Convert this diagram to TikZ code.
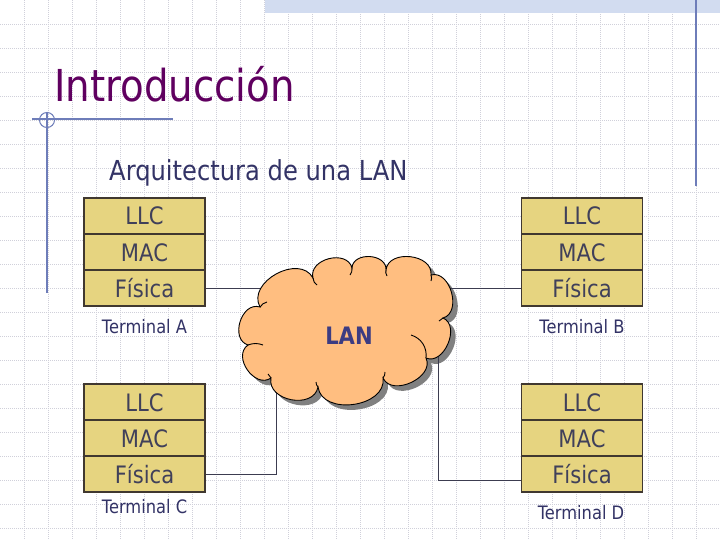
\documentclass[tikz,border=0pt]{standalone}
\usepackage{fontspec}
\setmainfont{DejaVu Sans}[FakeStretch=0.88]
\definecolor{titlec}{RGB}{96,0,96}
\definecolor{navy}{RGB}{51,51,102}
\definecolor{boxfill}{RGB}{230,212,128}
\definecolor{boxline}{RGB}{64,56,48}
\definecolor{boxtext}{RGB}{64,64,90}
\definecolor{cloudfill}{RGB}{255,190,128}
\definecolor{shadowc}{RGB}{128,128,128}
\definecolor{gridc}{RGB}{208,208,218}
\definecolor{decoc}{RGB}{110,125,185}
\definecolor{bandc}{RGB}{210,220,240}
\definecolor{wirec}{RGB}{60,60,80}
\definecolor{lanc}{RGB}{60,60,130}
\newcommand\mycloud{(260,307) to[bend left=90,looseness=1.2] (313,278)
  to[bend left=90,looseness=1.25] (352,268)
  to[bend left=90,looseness=1.25] (386,270)
  to[bend left=90,looseness=1.2] (431,275)
  to[bend left=90,looseness=1.15] (443,318)
  to[bend left=90,looseness=1.15] (426,358)
  to[bend left=90,looseness=1.15] (383,378)
  to[bend left=90,looseness=1.15] (318,387)
  to[bend left=90,looseness=1.25] (271,378)
  to[bend left=90,looseness=1.25] (248,345)
  to[bend left=90,looseness=1.25] (260,307) -- cycle}
\begin{document}
\begin{tikzpicture}[x=1pt,y=-1pt,
  layer/.style={draw=boxline,line width=1.3pt,fill=boxfill,minimum width=121pt,
    minimum height=36pt,inner sep=0pt,text=boxtext,font=\fontsize{24}{24}\selectfont,
    text height=18pt,text depth=0pt},
  term/.style={text=navy,font=\fontsize{18.5}{19}\selectfont,anchor=base,inner sep=0pt},
  wire/.style={draw=wirec,line width=0.9pt},
  deco/.style={draw=decoc,line width=1.3pt},
  gridline/.style={draw=gridc,line width=0.7pt,dash pattern=on 0.7pt off 1.3pt},
  cloudline/.style={draw=black,line width=0.9pt}]
\useasboundingbox (0,0) rectangle (720,540);
\fill[white] (0,0) rectangle (720,540);
\foreach \i in {1,...,29} {\draw[gridline] (\i*24,0) -- (\i*24,540);}
\foreach \j in {1,...,22} {\draw[gridline] (0,\j*24) -- (720,\j*24);}
\fill[bandc] (265,0) rectangle (720,13);
\draw[deco] (696,0) -- (696,186);
\draw[deco] (32,119) -- (173,119);
\draw[deco] (47,112) -- (47,293);
\draw[deco,line width=1pt] (47,120) circle (7.5);
% titles
\node[anchor=base west,inner sep=0pt,text=titlec,font=\fontsize{44}{48}\selectfont] (title) at (54,102) {Introducción};
\node[anchor=base west,inner sep=0pt,text=navy,font=\fontsize{27.5}{30}\selectfont] (sub) at (109,181) {Arquitectura de una LAN};
% cloud shadow
\fill[shadowc,shift={(5,5)}] \mycloud;
% terminals
\node[layer] (A1) at (144.5,216) {LLC};
\node[layer] (A2) at (144.5,252) {MAC};
\node[layer] (A3) at (144.5,288) {Física};
\node[layer] (B1) at (582,216) {LLC};
\node[layer] (B2) at (582,252) {MAC};
\node[layer] (B3) at (582,288) {Física};
\node[layer] (C1) at (144.5,402) {LLC};
\node[layer] (C2) at (144.5,438) {MAC};
\node[layer] (C3) at (144.5,474) {Física};
\node[layer] (D1) at (582,402) {LLC};
\node[layer] (D2) at (582,438) {MAC};
\node[layer] (D3) at (582,474) {Física};
\node[term] (tA) at (144.5,333) {Terminal A};
\node[term] (tB) at (582,333) {Terminal B};
\node[term] (tC) at (144.5,513) {Terminal C};
\node[term] (tD) at (581,519) {Terminal D};
% connectors
\coordinate (lanc) at (349,330);
\coordinate (cj) at (276,360);
\coordinate (dj) at (438,340);
\draw[wire] (A3.east) -- (A3.east -| lanc);
\draw[wire] (B3.west) -- (B3.west -| lanc);
\draw[wire] (C3.east) -| (cj);
\draw[wire] ([yshift=-6pt]D3.west) -| (dj);
% cloud
\filldraw[fill=cloudfill,cloudline] \mycloud;
\draw[cloudline] (313,278) to[bend right=25] (317,285);
\draw[cloudline] (352,268) to[bend left=20] (350,275);
\draw[cloudline] (386,270) to[bend right=20] (387,276);
\draw[cloudline] (431,275) to[bend left=20] (431,281);
\draw[cloudline] (443,318) to[bend left=20] (439,321);
\draw[cloudline] (411,335) to[bend left=40] (426,358);
\draw[cloudline] (383,378) to[bend right=20] (385,372);
\draw[cloudline] (318,387) to[bend left=20] (316,382);
\draw[cloudline] (271,378) to[bend left=20] (268,374);
\draw[cloudline] (248,345) to[bend left=20] (263,345);
\draw[cloudline] (260,307) to[bend left=20] (267,302);
\node[text=lanc,font=\bfseries\fontsize{24}{24}\selectfont] (lan) at (349,336) {LAN};
\end{tikzpicture}
\end{document}
